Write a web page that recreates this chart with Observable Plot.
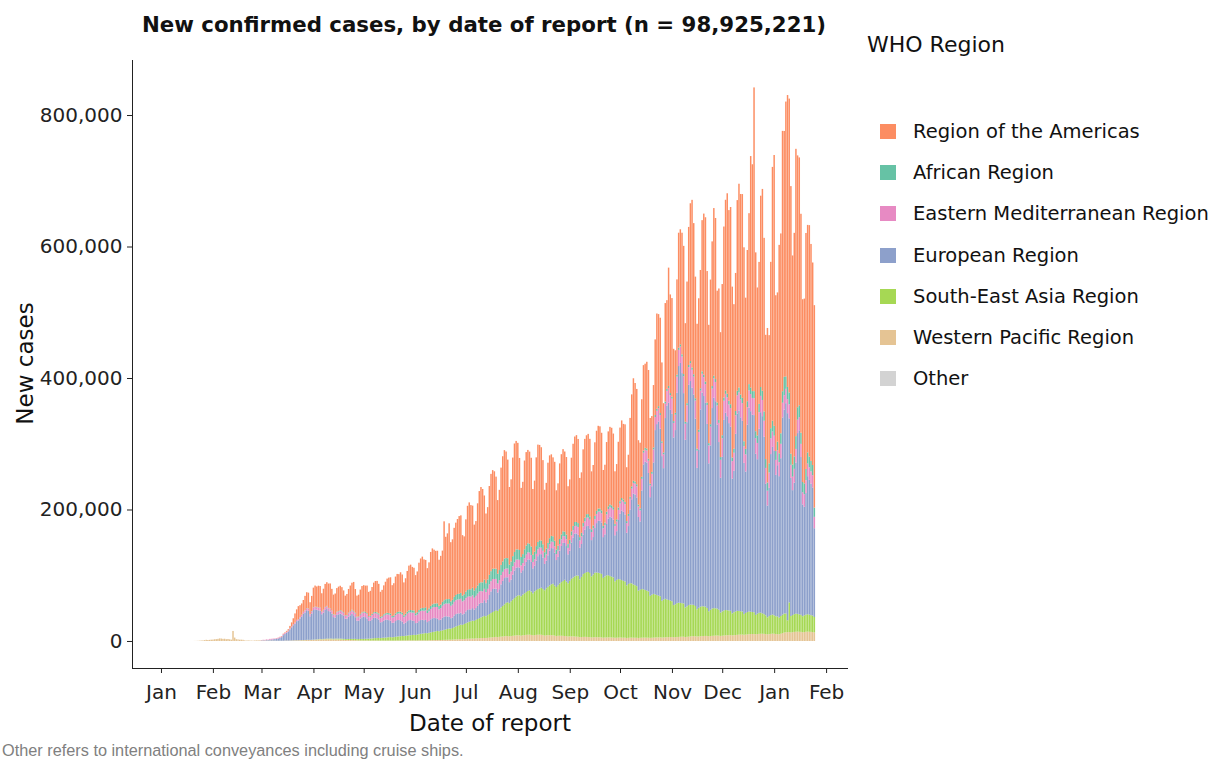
<!DOCTYPE html>
<html>
<head>
<meta charset="utf-8">
<script src="https://cdn.jsdelivr.net/npm/d3@7"></script>
<script src="https://cdn.jsdelivr.net/npm/@observablehq/plot@0.6"></script>
<style>
  html, body { margin: 0; padding: 0; background: #fff; }
  #wrap { position: relative; width: 1219px; height: 760px; overflow: hidden; font-family: "DejaVu Sans", Verdana, sans-serif; color: #111; }
  #chart { position: absolute; left: 0; top: 0; }
  .abs { position: absolute; white-space: nowrap; }
  #title { left: 126px; width: 716px; top: 13px; text-align: center; font-weight: bold; font-size: 21.3px; line-height: 24px; }
  #xlab { left: 132px; width: 716px; top: 712px; text-align: center; font-size: 23px; line-height: 23px; }
  #ylab { left: -75px; top: 352px; width: 200px; height: 23px; text-align: center; font-size: 23px; line-height: 23px; transform: rotate(-90deg); transform-origin: 50% 50%; }
  #legtitle { left: 867px; top: 34px; font-size: 22px; line-height: 22px; }
  .item { position: absolute; left: 880px; height: 15px; }
  .sw { position: absolute; left: 0; top: 0; width: 16px; height: 15px; }
  .lt { position: absolute; left: 33px; top: 0; font-size: 19.5px; line-height: 15px; white-space: nowrap; }
  #caption { left: 2px; top: 742px; font-family: "Liberation Sans", Arial, sans-serif; font-size: 16.3px; line-height: 16px; color: #808080; }
</style>
</head>
<body>
<div id="wrap">
  <div id="chart"></div>
  <div id="title" class="abs">New confirmed cases, by date of report (n = 98,925,221)</div>
  <div id="xlab" class="abs">Date of report</div>
  <div id="ylab" class="abs">New cases</div>
  <div id="legtitle" class="abs">WHO Region</div>
  <div id="legend"></div>
  <div id="caption" class="abs">Other refers to international conveyances including cruise ships.</div>
</div>
<script>
// ---------------- data (daily new cases, in thousands) ----------------
const regions = ["Other", "Western Pacific Region", "South-East Asia Region", "European Region",
                 "Eastern Mediterranean Region", "African Region", "Region of the Americas"];
const colors = ["#d3d3d3", "#e5c494", "#a6d854", "#8da0cb", "#e78ac3", "#66c2a5", "#fc8d62"];
const legendOrder = ["Region of the Americas", "African Region", "Eastern Mediterranean Region",
                     "European Region", "South-East Asia Region", "Western Pacific Region", "Other"];

const otherStart = "2020-02-05";
const otherEarly = [0.01,0.01,0.04,0.003,0.006,0.065,0,0.039,0.044,0.067,0.07,0.285,0,0.099,0.079,0.013,0.057,0.001,0.057,0,0.014];

const wpEarlyStart = "2020-01-21";
const wpEarly = [0.1,0.15,0.26,0.45,0.7,0.8,1.3,1.8,1.5,1.7,2.0,2.1,2.6,2.8,3.2,3.9,3.7,3.2,3.4,2.7,3.0,2.5,2.0,15.2,5.1,2.6,2.1,2.0,1.9,1.7,0.9,0.6,0.9,0.6,0.6,0.5,0.8,0.9,0.9,0.9];

const mainStart = "2020-03-01"; // weeks run Sunday..Saturday

const westernPacific = [
0.6,0.7,0.6,0.6,0.5,0.6,0.5, 0.5,0.4,0.3,0.3,0.3,0.3,0.3, 0.5,0.6,0.5,0.6,0.7,0.8,0.9, 1.0,1.0,1.1,1.2,1.2,1.3,1.5,
1.5,1.4,1.6,1.7,1.8,2.0,2.2, 2.5,2.2,2.6,2.5,2.8,2.6,2.7, 2.6,2.4,2.5,2.4,2.3,2.2,2.0, 1.8,1.6,1.5,1.5,1.4,1.3,1.3,
1.2,1.0,0.9,0.9,0.8,0.8,0.8, 0.8,0.7,0.7,0.7,0.8,0.8,0.7, 0.7,0.6,0.7,0.7,0.6,0.7,0.7, 0.7,0.6,0.6,0.7,0.8,0.7,0.7,
0.8,0.8,0.9,0.9,1.0,0.9,0.9, 0.9,0.8,0.9,0.9,1.0,1.0,1.0, 1.0,0.9,1.1,1.2,1.3,1.3,1.4, 1.4,1.3,1.5,1.6,1.7,1.8,1.9,
2.0,1.9,2.1,2.3,2.5,2.6,2.8, 2.9,2.7,3.0,3.2,3.4,3.5,3.6, 3.8,3.6,3.9,4.1,4.3,4.4,4.5, 4.6,4.4,4.8,5.1,5.4,5.7,6.0,
6.2,5.8,6.3,6.6,6.9,7.2,7.5, 7.4,7.0,7.5,7.9,8.2,8.5,8.7, 8.6,8.0,8.6,9.0,9.3,9.5,9.6, 9.2,8.5,9.0,9.3,9.5,9.6,9.5,
9.0,8.2,8.6,8.8,8.9,8.8,8.6, 8.2,7.6,7.9,8.0,8.0,7.8,7.6, 7.4,6.8,7.0,7.1,7.0,6.8,6.6, 6.4,5.8,6.0,6.2,6.3,6.2,6.0,
5.8,5.4,5.6,5.8,5.8,5.7,5.6, 5.5,5.0,5.2,5.4,5.5,5.4,5.3, 5.2,4.8,5.0,5.1,5.2,5.1,5.0, 5.0,4.6,4.8,5.0,5.1,5.0,4.9,
4.9,4.6,4.8,5.0,5.1,5.1,5.0, 5.0,4.7,4.9,5.1,5.3,5.4,5.5, 5.5,5.2,5.4,5.6,5.8,5.9,6.0, 6.0,5.6,5.8,6.0,6.2,6.4,6.5,
6.5,6.0,6.3,6.6,6.9,7.2,7.4, 7.2,6.8,7.0,7.2,7.4,7.6,7.7, 7.6,7.2,7.5,7.8,8.0,8.2,8.3, 8.1,7.7,8.0,8.3,8.6,8.8,8.9,
8.9,8.5,8.8,9.1,9.4,9.6,9.7, 9.8,9.4,9.7,10.0,10.3,10.5,10.6, 10.6,10.2,10.5,10.8,11.0,11.0,10.8, 10.5,10.0,10.4,10.8,11.2,11.0,10.6,
10.4,10.2,11.0,12.0,12.8,13.2,13.5, 13.6,13.0,13.4,13.8,14.0,14.2,14.0, 13.8,13.2,13.6,14.0,14.2,14.0,13.8, 13.6,13.0
];

const southEastAsia = [
0,0,0,0,0.01,0.01,0.01, 0.02,0.02,0.03,0.02,0.03,0.03,0.05, 0.05,0.05,0.06,0.07,0.08,0.1,0.12, 0.1,0.1,0.12,0.15,0.15,0.2,0.25,
0.3,0.25,0.3,0.35,0.4,0.45,0.5, 0.6,0.5,0.6,0.7,0.8,0.9,1.0, 1.0,0.9,1.1,1.2,1.3,1.4,1.4, 1.4,1.3,1.5,1.6,1.7,1.8,1.9,
2.0,1.9,2.0,2.2,2.3,2.4,2.5, 2.6,2.8,3.0,3.2,3.4,3.6,3.8, 4.0,3.8,4.1,4.3,4.5,4.8,5.0, 5.2,5.0,5.3,5.6,6.0,6.3,6.6,
6.8,6.6,7.0,7.3,7.6,7.9,8.2, 8.5,8.4,8.9,9.3,9.8,10.2,10.6, 11.0,10.8,11.3,11.8,12.3,12.8,13.3, 13.8,13.5,14.0,14.6,15.2,15.8,16.4,
17.0,16.8,17.6,18.5,19.4,20.3,21.2, 22.0,21.8,22.8,23.8,24.8,25.7,26.5, 27.2,27.0,28.2,29.3,30.4,31.5,32.6, 33.5,33.0,34.5,35.8,37.0,38.3,39.5,
40.5,40.0,42.5,44.5,46.5,48.5,50.5, 51.5,50.5,53.0,55.0,57.0,59.0,60.5, 61.0,60.0,62.0,63.5,65.0,66.5,67.5, 66.0,64.0,66.5,68.0,69.5,70.5,71.5,
70.0,69.0,71.5,73.5,75.5,77.5,78.5, 76.0,74.5,77.0,79.5,81.5,83.5,85.5, 83.0,81.0,84.5,87.5,89.5,91.5,93.0, 93.0,88.0,91.5,95.5,97.0,98.5,99.0,
97.5,93.0,95.5,98.0,98.5,98.0,97.5, 96.5,91.0,93.0,94.5,94.5,93.5,92.5, 91.5,86.0,88.0,89.0,88.5,87.5,86.5, 85.5,80.0,82.0,83.0,82.5,81.0,80.0,
78.5,72.0,73.0,74.0,73.5,72.5,71.5, 70.5,64.0,65.5,66.5,65.5,64.5,63.5, 62.5,56.0,57.5,58.5,57.5,56.5,55.5, 54.5,49.0,50.0,51.5,52.0,51.5,51.0,
50.5,45.0,46.5,48.0,48.5,48.0,47.5, 46.0,41.5,43.5,45.0,45.5,45.0,44.5, 42.5,38.0,40.0,41.5,42.0,41.5,41.0, 39.5,35.5,37.0,38.0,38.5,38.0,37.5,
37.0,33.5,35.0,36.0,36.5,36.0,35.5, 35.0,31.5,33.0,34.0,34.5,34.0,33.5, 33.0,29.5,31.0,32.0,32.0,31.0,30.0, 28.5,26.0,27.5,28.5,29.0,28.0,27.0,
27.0,25.5,27.0,28.0,29.0,28.5,18.0, 45.0,25.0,26.0,27.0,27.5,27.0,26.5, 26.0,24.5,25.5,26.0,26.5,26.0,25.5, 25.0,23.5
];

const european = [
0.4,0.6,0.5,0.8,0.9,1.2,1.6, 2.0,2.5,2.8,3.5,4.5,5.5,8.5, 10,12,14,17,20,23,25, 29,30,33,36,40,42,45,
44,36,40,45,46,45,44, 43,38,40,44,45,42,41, 38,33,32,36,37,38,37, 35,31,31,34,36,38,36,
33,28,28,31,33,34,33, 31,27,27,29,31,31,30, 28,24,24,26,27,27,26, 25,22,22,24,25,25,24,
22,19,20,22,23,23,22, 21,18,18,20,21,21,20, 20,17,18,20,21,21,20, 19,17,17,19,20,20,19,
18,16,16,18,19,19,18, 18,16,16,18,19,19,18, 19,17,18,20,22,22,21, 24,21,24,29,33,35,34,
33,28,30,35,38,40,39, 38,32,33,38,42,44,43, 42,36,37,42,46,48,47, 45,38,39,45,50,52,51,
48,40,42,48,53,55,54, 50,41,43,50,55,58,56, 54,44,46,55,61,65,64, 62,48,50,60,66,70,70,
68,55,57,68,75,79,80, 78,62,64,78,86,90,90, 88,70,74,90,100,106,105, 102,80,88,112,128,138,138,
135,112,104,150,190,195,195, 180,150,165,200,250,260,265, 255,220,200,275,295,300,290, 285,255,265,320,360,365,350,
320,255,280,335,340,330,320, 285,215,240,300,325,320,310, 280,225,250,305,320,315,280, 255,205,235,290,300,295,285,
280,205,215,270,300,305,295, 290,230,215,285,310,305,300, 300,245,235,280,305,300,270, 200,170,195,245,255,250,215,
230,215,240,300,310,320,315, 280,210,190,200,230,275,280, 240,170,165,185,210,205,200, 195,135
];

const easternMediterranean = [
0.4,0.5,0.6,0.9,0.6,1.3,1.1, 1.0,0.7,1.0,1.0,1.1,1.1,1.4, 1.4,1.2,1.3,1.2,1.4,1.5,1.7, 1.8,1.7,2.0,2.4,2.7,2.8,3.0,
3.3,2.9,3.2,3.6,3.6,3.9,3.8, 3.9,3.4,3.7,4.0,4.1,4.2,4.0, 3.9,3.5,3.8,4.1,4.2,4.4,4.5, 4.7,4.2,4.5,4.9,5.1,5.3,5.4,
5.6,5.0,5.3,5.8,6.1,6.3,6.4, 6.4,5.8,6.1,6.6,6.8,7.0,7.0, 7.3,6.6,7.0,7.5,7.8,8.1,8.3, 8.6,8.0,8.5,9.1,9.5,9.9,10.2,
10.6,9.9,10.5,11.2,11.7,11.9,12.1, 12.5,11.7,12.4,13.1,13.7,14.0,14.2, 14.8,13.8,14.6,15.6,16.2,16.6,17.0, 17.6,16.5,17.4,18.4,18.9,19.4,19.6,
20.0,18.8,19.7,20.7,21.1,21.2,21.2, 21.2,19.7,20.0,20.2,20.1,19.8,19.4, 19.4,18.2,18.5,18.7,18.5,18.0,17.4, 17.2,15.9,16.0,16.0,15.6,15.3,14.8,
14.8,13.7,13.9,14.1,13.8,13.6,13.2, 13.2,12.2,12.4,12.6,12.4,12.2,11.8, 11.8,10.9,11.0,11.2,11.0,10.8,10.4, 10.5,9.7,9.9,10.2,10.2,10.1,9.9,
10.1,9.3,9.6,9.9,9.9,9.8,9.6, 9.8,9.1,9.5,10.0,10.1,10.2,10.1, 10.4,9.8,10.3,11.0,11.2,11.5,11.5, 11.9,11.2,11.8,12.4,12.6,12.8,12.8,
13.2,12.4,13.1,13.8,13.9,14.1,14.0, 14.3,13.5,14.1,14.7,14.7,14.8,14.6, 14.9,14.1,14.7,15.3,15.3,15.4,15.3, 15.6,14.7,15.4,16.1,16.2,16.4,16.4,
16.8,16.0,16.8,17.6,17.8,18.1,18.2, 18.7,17.9,18.9,19.8,19.9,20.2,20.3, 20.8,20.0,21.1,22.0,22.1,22.4,22.5, 23.0,22.1,23.4,24.5,24.6,25.0,25.2,
25.7,24.5,25.8,26.9,27.0,27.3,27.2, 27.6,26.2,27.5,28.6,28.5,28.7,28.5, 28.8,27.3,28.5,29.5,29.3,29.3,29.0, 29.1,27.4,28.4,29.2,28.8,28.7,28.3,
28.4,26.6,27.5,28.2,27.7,27.5,27.0, 27.0,25.3,26.1,26.7,26.3,26.1,25.6, 25.6,23.9,24.7,25.3,24.8,24.6,24.2, 24.2,22.6,23.3,23.9,23.4,23.2,22.8,
22.8,21.3,21.9,22.4,22.0,21.8,21.4, 21.4,19.9,20.5,21.0,20.6,20.4,20.0, 20.0,18.6,19.2,19.6,19.2,19.0,18.6, 18.6,17.3
];

const african = [
0,0,0,0,0,0,0, 0.01,0.01,0.02,0.02,0.02,0.03,0.05, 0.05,0.06,0.08,0.1,0.1,0.15,0.2, 0.2,0.2,0.25,0.3,0.3,0.35,0.4,
0.4,0.4,0.45,0.5,0.5,0.6,0.6, 0.6,0.5,0.6,0.6,0.7,0.7,0.8, 0.8,0.7,0.8,0.8,0.9,1.0,1.0, 1.0,0.9,1.0,1.1,1.1,1.2,1.2,
1.2,1.1,1.2,1.3,1.4,1.4,1.5, 1.5,1.4,1.5,1.6,1.7,1.8,1.9, 1.9,1.8,2.0,2.1,2.2,2.3,2.4, 2.4,2.3,2.5,2.6,2.7,2.8,3.0,
2.9,2.8,3.0,3.1,3.3,3.4,3.5, 3.5,3.3,3.6,3.8,4.0,4.1,4.3, 4.5,4.3,4.6,4.8,5.0,5.2,5.4, 5.5,5.3,5.6,5.9,6.2,6.5,6.8,
7.0,6.8,7.2,7.6,8.0,8.4,8.8, 9.0,8.8,9.3,9.8,10.3,10.8,11.2, 11.5,11.2,11.8,12.3,12.8,13.3,13.7, 14.0,13.6,14.3,14.8,15.2,15.6,15.8,
15.5,14.8,15.2,15.5,15.8,16.0,16.0, 15.8,14.5,15.0,15.5,15.8,15.6,15.4, 15.0,13.0,13.5,13.8,14.0,13.8,13.5, 13.0,11.0,11.5,11.8,11.5,11.0,10.8,
10.0,8.5,8.8,9.0,9.0,8.8,8.6, 8.5,7.0,7.4,7.6,7.5,7.3,7.0, 7.0,5.8,6.0,6.2,6.3,6.2,6.0, 6.0,5.0,5.2,5.4,5.5,5.4,5.2,
5.0,4.2,4.5,4.6,4.6,4.5,4.4, 4.4,3.6,3.8,4.0,4.1,4.0,3.9, 3.9,3.2,3.4,3.6,3.6,3.5,3.4, 3.4,3.0,3.1,3.2,3.3,3.2,3.1,
3.2,2.8,3.0,3.1,3.2,3.1,3.0, 3.0,2.6,2.8,2.9,3.0,3.0,2.9, 2.9,2.5,2.7,2.9,3.0,3.1,3.1, 3.1,2.7,2.9,3.0,3.2,3.3,3.3,
3.3,2.9,3.1,3.3,3.4,3.5,3.5, 3.4,3.0,3.3,3.5,3.7,3.8,3.8, 3.8,3.4,3.7,4.0,4.2,4.4,4.5, 4.5,4.1,4.5,4.9,5.2,5.5,5.7,
5.8,5.4,6.0,6.5,7.0,7.4,7.7, 8.0,7.6,8.4,9.0,9.6,10.0,10.4, 10.8,10.5,11.5,12.5,13.5,14.0,14.2, 13.5,12.5,14.0,15.5,16.5,15.0,13.5,
13.0,13.5,16.0,17.5,28.0,19.0,18.5, 18.0,17.0,18.5,19.0,19.5,19.0,18.0, 17.0,15.5,16.5,17.0,17.0,16.5,16.0, 15.5,14.0
];

const americas = [
0.01,0.02,0.03,0.04,0.05,0.08,0.1, 0.1,0.15,0.2,0.3,0.4,0.6,0.8, 1,1.5,2,4,6,9,14, 16,20,18,17,18,22,24,
24,18,23,30,32,31,33, 33,28,32,35,36,37,38, 33,30,32,36,37,37,36, 33,30,32,36,39,41,44,
36,32,33,37,40,40,40, 42,37,38,41,45,47,48, 45,38,40,44,48,52,54, 55,47,49,56,58,57,60,
58,50,54,62,68,69,66, 65,58,62,72,76,78,74, 72,64,70,82,85,82,80, 80,70,74,78,120,95,100,
115,90,92,105,110,114,118, 118,92,88,110,128,132,128, 125,100,102,125,140,145,142, 128,106,110,135,148,150,148,
140,112,122,148,160,165,162, 150,118,125,150,165,165,162, 140,105,110,135,142,142,140, 135,100,108,135,148,145,142,
128,95,100,122,126,124,120, 120,90,95,115,122,125,122, 118,88,92,112,125,130,132, 128,90,92,112,120,120,122,
118,88,92,112,122,126,125, 118,85,88,106,114,118,118, 112,80,84,100,112,118,115, 118,82,90,120,140,156,150,
145,98,100,118,130,128,132, 135,100,85,95,115,145,140, 145,120,75,150,135,180,150, 150,110,95,145,175,175,185,
195,150,185,210,240,255,230, 185,190,200,180,230,245,250, 200,180,220,220,255,245,170, 200,190,230,260,290,305,290,
300,260,220,210,290,310,305, 310,295,230,230,260,352,345, 462,272,225,216,291,307,264, 189,235,195,253,386,412,237,
227,317,304,396,374,418,444, 447,407,318,340,437,383,377, 333,278,281,359,346,352,330, 308,308
];

// axis ticks
const yTicks = [0, 200000, 400000, 600000, 800000];
const monthTicks = ["2020-01-01","2020-02-01","2020-03-01","2020-04-01","2020-05-01","2020-06-01","2020-07-01",
                    "2020-08-01","2020-09-01","2020-10-01","2020-11-01","2020-12-01","2021-01-01","2021-02-01"];
const xDomain = ["2019-12-14T17:00:00Z", "2021-02-14T02:00:00Z"];
const yDomain = [-41100, 883700];

// ---------------- build table ----------------
const DAY = 864e5;
const rows = [];
function addSeries(region, start, values) {
  const t0 = Date.parse(start + "T00:00:00Z");
  values.forEach((v, i) => {
    const t = t0 + i * DAY;
    rows.push({region, date: new Date(t), x1: new Date(t - DAY / 2), x2: new Date(t + DAY / 2), value: v * 1000});
  });
}
addSeries("Other", otherStart, otherEarly);
addSeries("Western Pacific Region", wpEarlyStart, wpEarly);
addSeries("Western Pacific Region", mainStart, westernPacific);
addSeries("South-East Asia Region", mainStart, southEastAsia);
addSeries("European Region", mainStart, european);
addSeries("Eastern Mediterranean Region", mainStart, easternMediterranean);
addSeries("African Region", mainStart, african);
addSeries("Region of the Americas", mainStart, americas);

const xd = xDomain.map(d => new Date(d));
const xt = monthTicks.map(d => new Date(d + "T00:00:00Z"));

const chart = Plot.plot({
  width: 860,
  height: 760,
  marginLeft: 132,
  marginRight: 12,
  marginTop: 60,
  marginBottom: 92,
  x: {type: "utc", domain: xd},
  y: {domain: yDomain},
  color: {domain: regions, range: colors},
  style: {fontFamily: "DejaVu Sans, Verdana, sans-serif", fontSize: "20px", color: "#222", background: "transparent", overflow: "visible"},
  marks: [
    Plot.rectY(rows, Plot.stackY({x1: "x1", x2: "x2", y: "value", fill: "region", order: regions, insetLeft: 0.1, insetRight: 0.1})),
    Plot.ruleX([xd[0]], {stroke: "#222", strokeWidth: 1}),
    Plot.ruleY([yDomain[0]], {stroke: "#222", strokeWidth: 1}),
    Plot.axisY(yTicks, {tickFormat: d3.format(","), tickSize: 5, tickPadding: 5, fontSize: 20, label: null, stroke: "#222"}),
    Plot.axisX(xt, {tickFormat: d3.utcFormat("%b"), tickSize: 5, tickPadding: 11, fontSize: 20, label: null, stroke: "#222"})
  ]
});
document.getElementById("chart").appendChild(chart);

// legend
const leg = document.getElementById("legend");
legendOrder.forEach((r, i) => {
  const it = document.createElement("div");
  it.className = "item";
  it.style.top = (124 + i * 41.2) + "px";
  const sw = document.createElement("div");
  sw.className = "sw";
  sw.style.background = colors[regions.indexOf(r)];
  const lt = document.createElement("div");
  lt.className = "lt";
  lt.textContent = r;
  it.appendChild(sw); it.appendChild(lt);
  leg.appendChild(it);
});
</script>
</body>
</html>
